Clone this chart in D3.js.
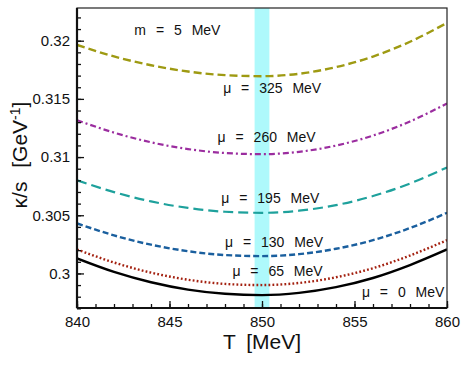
<!DOCTYPE html>
<html>
<head>
<meta charset="utf-8">
<script src="https://cdn.jsdelivr.net/npm/d3@7"></script>
<style>
  body { margin: 0; background: #fff; }
  text { font-family: "Liberation Sans", Arial, sans-serif; fill: #111; }
</style>
</head>
<body>
<div id="chart"></div>
<script>
const margin = {top: 8, right: 16, bottom: 63, left: 77},
  width = 463 - margin.left - margin.right,
  height = 371 - margin.top - margin.bottom

// temperatures (MeV)
const temps = [840, 842, 844, 846, 848, 850, 852, 854, 856, 858, 860]

// kappa/s for each chemical potential
const kappaMu0   = [0.30129, 0.30013, 0.29924, 0.29861, 0.29825, 0.29814, 0.29833, 0.29882, 0.29961, 0.30072, 0.30206]
const kappaMu65  = [0.30206, 0.30094, 0.30007, 0.29946, 0.29910, 0.29900, 0.29918, 0.29967, 0.30045, 0.30154, 0.30286]
const kappaMu130 = [0.30430, 0.30327, 0.30247, 0.30191, 0.30158, 0.30149, 0.30166, 0.30212, 0.30286, 0.30390, 0.30521]
const kappaMu195 = [0.30801, 0.30699, 0.30619, 0.30563, 0.30530, 0.30521, 0.30539, 0.30587, 0.30665, 0.30773, 0.30911]
const kappaMu260 = [0.31317, 0.31210, 0.31127, 0.31069, 0.31035, 0.31025, 0.31045, 0.31099, 0.31185, 0.31306, 0.31460]
const kappaMu325 = [0.31964, 0.31865, 0.31789, 0.31735, 0.31704, 0.31695, 0.31716, 0.31773, 0.31864, 0.31991, 0.32153]

const xTicks = [840, 845, 850, 855, 860]
const yTicks = [0.3, 0.305, 0.31, 0.315, 0.32]
const band = [849.6, 850.4]

// label text + anchor point (T, kappa/s)
const labels = [
  {text: "m = 5 MeV", T: 843.1, k: 0.32050},
  {text: "μ = 325 MeV", T: 847.9, k: 0.31551},
  {text: "μ = 260 MeV", T: 847.6, k: 0.31130},
  {text: "μ = 195 MeV", T: 847.8, k: 0.30605},
  {text: "μ = 130 MeV", T: 848.0, k: 0.30227},
  {text: "μ = 65 MeV", T: 848.4, k: 0.29978},
  {text: "μ = 0 MeV", T: 855.4, k: 0.29797}
]

const series = [
  {vals: kappaMu0,   color: "#000000", w: 2.4, dash: null},
  {vals: kappaMu65,  color: "#a3200f", w: 2.4, dash: "1.8,2.2"},
  {vals: kappaMu130, color: "#1a5f9e", w: 2.4, dash: "6,3"},
  {vals: kappaMu195, color: "#1ea19c", w: 2.2, dash: "10,5"},
  {vals: kappaMu260, color: "#9b2d9f", w: 2.2, dash: "6,3,2,3"},
  {vals: kappaMu325, color: "#9e9a12", w: 2.4, dash: "8,4"}
]

const svg = d3.select("#chart").append("svg")
  .attr("width", 463)
  .attr("height", 371)

const g = svg.append("g")
  .attr("transform", "translate(" + margin.left + "," + margin.top + ")")

const x = d3.scaleLinear().domain([840, 860]).range([0, width])
const y = d3.scaleLinear().domain([0.29703, 0.32281]).range([height, 0])

g.append("clipPath").attr("id", "clip")
  .append("rect").attr("width", width).attr("height", height)

// shaded band around T = 850
g.append("rect")
  .attr("x", x(band[0]))
  .attr("y", 0)
  .attr("width", x(band[1]) - x(band[0]))
  .attr("height", height)
  .attr("fill", "#aef9fb")

const line = d3.line()
  .x((d, i) => x(temps[i]))
  .y(d => y(d))
  .curve(d3.curveMonotoneX)

g.append("g").attr("clip-path", "url(#clip)")
  .selectAll("path")
  .data(series)
  .enter()
  .append("path")
  .attr("d", d => line(d.vals))
  .attr("fill", "none")
  .attr("stroke", d => d.color)
  .attr("stroke-width", d => d.w)
  .attr("stroke-dasharray", d => d.dash)

// frame
g.append("rect")
  .attr("width", width).attr("height", height)
  .attr("fill", "none").attr("stroke", "#222").attr("stroke-width", 1.2)

// axes, ticks pointing inward
const xMinor = d3.range(840, 861, 1)
const yMinor = d3.range(0.297, 0.3228, 0.001)

g.append("g")
  .attr("transform", "translate(0," + height + ")")
  .call(d3.axisBottom(x).tickValues(xMinor).tickSize(-4).tickFormat(""))
  .call(a => a.select(".domain").remove())

g.append("g")
  .attr("transform", "translate(0," + height + ")")
  .call(d3.axisBottom(x).tickValues(xTicks).tickSize(-7).tickPadding(8).tickFormat(d3.format("d")))
  .call(a => a.select(".domain").remove())
  .selectAll("text").style("font-size", "15px").attr("fill", "#111")

g.append("g")
  .call(d3.axisLeft(y).tickValues(yMinor).tickSize(-4).tickFormat(""))
  .call(a => a.select(".domain").remove())

g.append("g")
  .call(d3.axisLeft(y).tickValues(yTicks).tickSize(-7).tickPadding(7).tickFormat(d => d3.format("")(+d.toFixed(3))))
  .call(a => a.select(".domain").remove())
  .selectAll("text").style("font-size", "15px").attr("fill", "#111")

g.selectAll(".tick line").attr("stroke", "#111").attr("stroke-width", 1.3)

// thicker left and bottom axis lines
g.append("line").attr("x1", 0).attr("x2", 0).attr("y1", 0).attr("y2", height)
  .attr("stroke", "#111").attr("stroke-width", 2.2)
g.append("line").attr("x1", 0).attr("x2", width).attr("y1", height).attr("y2", height)
  .attr("stroke", "#111").attr("stroke-width", 2.2)

// curve labels
g.selectAll(".lbl")
  .data(labels)
  .enter()
  .append("text")
  .attr("class", "lbl")
  .attr("x", d => x(d.T))
  .attr("y", d => y(d.k))
  .style("font-size", "14px")
  .style("word-spacing", "6px")
  .text(d => d.text)

// axis titles
svg.append("text")
  .attr("x", margin.left + width / 2)
  .attr("y", 349)
  .attr("text-anchor", "middle")
  .style("font-size", "21px")
  .style("word-spacing", "5px")
  .text("T [MeV]")

const yt = svg.append("text")
  .attr("transform", "translate(27,155) rotate(-90)")
  .attr("text-anchor", "middle")
  .style("font-size", "21px")
  .style("word-spacing", "8px")
yt.append("tspan").text("κ/s [GeV")
yt.append("tspan").attr("dy", -7).style("font-size", "14px").text("-1")
yt.append("tspan").attr("dy", 7).text("]")
</script>
</body>
</html>
